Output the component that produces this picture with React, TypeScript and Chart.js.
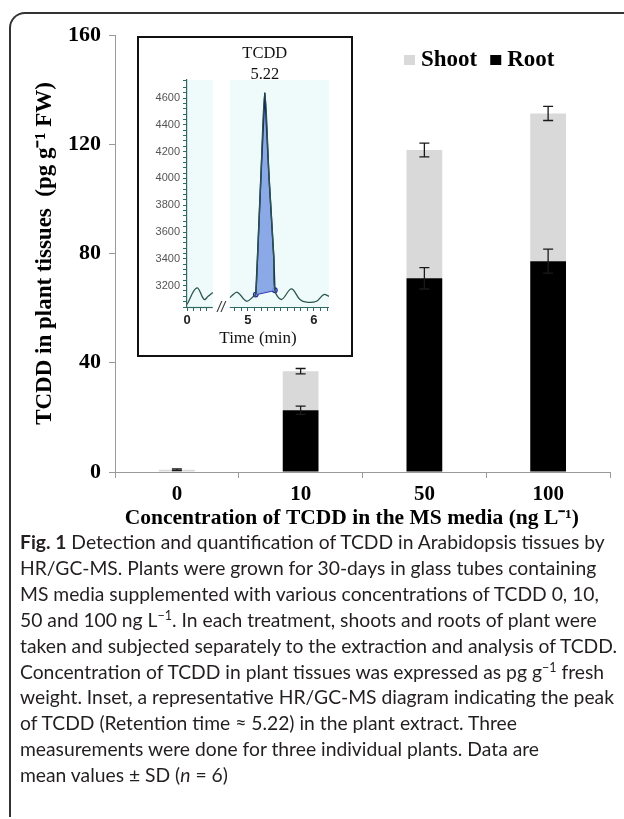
import React, { useEffect, useRef } from 'react';
import { Chart, registerables } from 'chart.js';

Chart.register(...registerables);

// ---------- Main bar chart data ----------
const categories = ['0', '10', '50', '100'];
const rootValues = [0, 22.6, 70.9, 77.2];
const shootValues = [0.8, 14.3, 47.0, 54.1];
const rootErrors = [0, 1.5, 3.9, 4.4];
const totalErrors = [0.3, 1.0, 2.5, 2.6];
const yTickStep = 40;
const yMax = 160;

// ---------- Inset chromatogram data (time in min, intensity) ----------
const insetTitle = 'TCDD';
const retentionTime = 5.22;
const insetLeftTimes = [0, 0.15, 0.26, 0.32, 0.39];
const insetLeftSignal = [3059, 3183, 3096, 3120, 3148];
const insetRightTimes = [4.73, 4.75, 4.84, 4.98, 5.09, 5.12, 5.147, 5.197, 5.258, 5.323, 5.394, 5.41, 5.51, 5.66, 5.79, 5.89, 6.04, 6.15, 6.23];
const insetRightSignal = [3110, 3120, 3150, 3083, 3120, 3133, 3409, 3997, 4640, 3997, 3409, 3165, 3096, 3175, 3096, 3076, 3083, 3133, 3120];
const peakStartIndex = 5;
const peakEndIndex = 11;
const peakApexIndex = 8;
const integrationTimes = [5.12, 5.41];
const integrationSignal = [3133, 3165];
const insetYMin = 3040;
const insetYMax = 4735;
const insetYStep = 40;
const insetLabelStep = 200;
const insetPanels: [number, number][] = [[0, 0.39], [4.727, 6.23]];
const insetTickTimes = [0, 0.1, 0.2, 0.3, 4.8, 4.9, 5.0, 5.1, 5.2, 5.3, 5.4, 5.5, 5.6, 5.7, 5.8, 5.9, 6.0, 6.1, 6.2];
const insetLabeledTimes = [0, 5, 6];
const timeBreakShift = 4.079;

const SERIF = '"Liberation Serif", "Times New Roman", serif';
const SANS = '"Liberation Sans", Arial, sans-serif';

function MainChart() {
  const ref = useRef<HTMLCanvasElement>(null);
  useEffect(() => {
    const canvas = ref.current;
    if (!canvas) return;

    const errorBars = {
      id: 'errorBars',
      afterDatasetsDraw(chart: any) {
        const ctx = chart.ctx;
        const y = chart.scales.y;
        const meta = chart.getDatasetMeta(0);
        ctx.save();
        ctx.strokeStyle = '#1a1a1a';
        ctx.lineWidth = 1.3;
        categories.forEach((_, i) => {
          const x = meta.data[i].x;
          const pairs: [number, number][] = [
            [rootValues[i], rootErrors[i]],
            [rootValues[i] + shootValues[i], totalErrors[i]],
          ];
          pairs.forEach(([v, e]) => {
            if (e <= 0) return;
            const yt = y.getPixelForValue(v + e);
            const yb = y.getPixelForValue(v - e);
            ctx.beginPath();
            ctx.moveTo(x, yt);
            ctx.lineTo(x, yb);
            ctx.moveTo(x - 5, yt);
            ctx.lineTo(x + 5, yt);
            ctx.moveTo(x - 5, yb);
            ctx.lineTo(x + 5, yb);
            ctx.stroke();
          });
        });
        ctx.restore();
      },
    };

    const insideLegend = {
      id: 'insideLegend',
      afterDraw(chart: any) {
        const ctx = chart.ctx;
        const items = [chart.data.datasets[1], chart.data.datasets[0]];
        ctx.save();
        ctx.font = `bold 23px ${SERIF}`;
        ctx.textBaseline = 'alphabetic';
        let x = 404;
        const base = 66;
        items.forEach((ds: any) => {
          ctx.fillStyle = ds.backgroundColor;
          ctx.fillRect(x, base - 11, 11, 10);
          x += 17;
          ctx.fillStyle = '#000';
          ctx.fillText(ds.label, x, base);
          x += ctx.measureText(ds.label).width + 13;
        });
        ctx.restore();
      },
    };

    const chart = new Chart(canvas, {
      type: 'bar',
      data: {
        labels: categories,
        datasets: [
          {
            label: 'Root',
            data: rootValues,
            backgroundColor: '#000000',
            stack: 's',
            categoryPercentage: 0.5,
            barPercentage: 0.578,
          },
          {
            label: 'Shoot',
            data: shootValues,
            backgroundColor: '#d9d9d9',
            stack: 's',
            categoryPercentage: 0.5,
            barPercentage: 0.578,
          },
        ],
      },
      options: {
        animation: false,
        responsive: false,
        layout: { padding: { left: 0, right: 14, top: 35, bottom: 0 } },
        plugins: {
          legend: { display: false },
          tooltip: { enabled: false },
          title: { display: false },
        },
        scales: {
          x: {
            stacked: true,
            grid: {
              display: true,
              drawOnChartArea: false,
              drawTicks: true,
              tickLength: 6,
              color: '#9a9a9a',
              offset: true,
            },
            border: { display: true, color: '#9a9a9a', width: 1 },
            ticks: {
              color: '#000',
              font: { family: SERIF, size: 21, weight: 'bold' },
              padding: 4,
            },
            title: {
              display: true,
              text: 'Concentration of TCDD in the MS media (ng L\u207B\u00B9)    ',
              color: '#000',
              font: { family: SERIF, size: 21.5, weight: 'bold' },
              padding: { top: 0, bottom: 4 },
            },
            afterFit: (s: any) => {
              s.height = 63;
            },
          },
          y: {
            stacked: true,
            min: 0,
            max: yMax,
            ticks: {
              stepSize: yTickStep,
              color: '#000',
              font: { family: SERIF, size: 22, weight: 'bold' },
              padding: 8,
            },
            grid: {
              display: true,
              drawOnChartArea: false,
              drawTicks: true,
              tickLength: 6,
              color: '#9a9a9a',
            },
            border: { display: true, color: '#9a9a9a', width: 1 },
            title: {
              display: true,
              text: 'TCDD in plant tissues  (pg g\u207B\u00B9 FW)',
              color: '#000',
              font: { family: SERIF, size: 23, weight: 'bold' },
              padding: { top: 31, bottom: 0 },
            },
            afterFit: (s: any) => {
              s.width = 115;
            },
          },
        },
      },
      plugins: [errorBars, insideLegend],
    } as any);
    return () => chart.destroy();
  }, []);
  return (
    <canvas
      ref={ref}
      width={624}
      height={535}
      style={{ position: 'absolute', left: 0, top: 0, width: 624, height: 535 }}
    />
  );
}

function InsetChart() {
  const ref = useRef<HTMLCanvasElement>(null);
  useEffect(() => {
    const canvas = ref.current;
    if (!canvas) return;
    const toDisplay = (t: number) => (t < 2 ? t : t - timeBreakShift);
    const pts = (ts: number[], vs: number[]) => ts.map((t, i) => ({ x: toDisplay(t), y: vs[i] }));

    const panelPlugin = {
      id: 'panels',
      beforeDraw(chart: any) {
        const { ctx, chartArea, scales } = chart;
        const x = scales.x;
        ctx.save();
        ctx.fillStyle = '#effbfb';
        insetPanels.forEach(([a, b]) => {
          const xa = x.getPixelForValue(toDisplay(a));
          const xb = x.getPixelForValue(toDisplay(b));
          ctx.fillRect(xa, chartArea.top, xb - xa, chartArea.bottom - chartArea.top);
        });
        ctx.restore();
      },
      afterDraw(chart: any) {
        const { ctx, chartArea, scales } = chart;
        const x = scales.x;
        ctx.save();
        ctx.strokeStyle = '#2f6b64';
        ctx.lineWidth = 1.2;
        insetPanels.forEach(([a, b]) => {
          const xa = x.getPixelForValue(toDisplay(a));
          const xb = x.getPixelForValue(toDisplay(b));
          ctx.beginPath();
          ctx.moveTo(xa, chartArea.bottom + 0.5);
          ctx.lineTo(xb, chartArea.bottom + 0.5);
          ctx.stroke();
        });
        const gx =
          (x.getPixelForValue(toDisplay(insetPanels[0][1])) + x.getPixelForValue(toDisplay(insetPanels[1][0]))) / 2;
        ctx.fillStyle = '#333';
        ctx.font = `italic 14px ${SANS}`;
        ctx.textAlign = 'center';
        ctx.textBaseline = 'middle';
        ctx.fillText('//', gx, chartArea.bottom + 1);

        // title over the peak
        const px = x.getPixelForValue(toDisplay(insetRightTimes[peakApexIndex]));
        ctx.fillStyle = '#111';
        ctx.font = `16.5px ${SERIF}`;
        ctx.fillText(insetTitle, px, 16);
        ctx.fillText(retentionTime.toFixed(2), px, 37);
        ctx.restore();
      },
    };

    const chart = new Chart(canvas, {
      type: 'line',
      data: {
        datasets: [
          {
            data: pts(insetLeftTimes, insetLeftSignal),
            borderColor: '#2b564c',
            borderWidth: 1.3,
            pointRadius: 0,
            tension: 0.4,
            fill: false,
          },
          {
            data: pts(insetRightTimes, insetRightSignal),
            borderColor: '#2b564c',
            borderWidth: 1.3,
            pointRadius: 0,
            tension: 0.35,
            fill: false,
          },
          {
            data: pts(
              insetRightTimes.slice(peakStartIndex, peakEndIndex + 1),
              insetRightSignal.slice(peakStartIndex, peakEndIndex + 1)
            ),
            borderColor: '#14215e',
            borderWidth: 1.5,
            pointRadius: 0,
            tension: 0,
            fill: { target: 3 },
            backgroundColor: 'rgba(128, 160, 228, 0.9)',
          },
          {
            data: pts(integrationTimes, integrationSignal),
            borderColor: '#2a2aa0',
            borderWidth: 1.6,
            pointRadius: 2.3,
            pointBackgroundColor: '#8aa0ee',
            pointBorderColor: '#2a2aa0',
            pointBorderWidth: 1.2,
            tension: 0,
            fill: false,
          },
        ],
      },
      options: {
        animation: false,
        responsive: false,
        layout: { padding: { left: 0, right: 22, top: 42, bottom: 0 } },
        plugins: {
          legend: { display: false },
          tooltip: { enabled: false },
          title: { display: false },
        },
        scales: {
          x: {
            type: 'linear',
            min: 0,
            max: toDisplay(insetPanels[1][1]),
            afterBuildTicks: (s: any) => {
              s.ticks = insetTickTimes.map((t) => ({ value: toDisplay(t) }));
            },
            grid: {
              display: true,
              drawOnChartArea: false,
              drawTicks: true,
              tickLength: 4,
              color: '#2f6b64',
            },
            border: { display: false },
            ticks: {
              autoSkip: false,
              maxRotation: 0,
              color: '#222',
              font: { family: SANS, size: 13, weight: 'bold' },
              padding: 2,
              callback: (val: any) => {
                const v = Number(val);
                const t = v < 0.5 ? v : v + timeBreakShift;
                const r = Math.round(t * 10) / 10;
                return insetLabeledTimes.includes(r) ? String(r) : '';
              },
            },
            title: {
              display: true,
              text: 'Time (min)',
              color: '#111',
              font: { family: SERIF, size: 17 },
              padding: { top: 0, bottom: 6 },
            },
            afterFit: (s: any) => {
              s.height = 48;
            },
          },
          y: {
            min: insetYMin,
            max: insetYMax,
            ticks: {
              stepSize: insetYStep,
              autoSkip: false,
              color: '#555',
              font: { family: SANS, size: 11 },
              padding: 3,
              callback: (val: any) => {
                const v = Math.round(Number(val));
                return v % insetLabelStep === 0 ? String(v) : '';
              },
            },
            grid: {
              display: true,
              drawOnChartArea: false,
              drawTicks: true,
              tickLength: 4,
              color: '#2f6b64',
            },
            border: { display: true, color: '#2f6b64', width: 1.2 },
            afterFit: (s: any) => {
              s.width = 48;
            },
          },
        },
      },
      plugins: [panelPlugin],
    } as any);
    return () => chart.destroy();
  }, []);
  return (
    <div
      style={{
        position: 'absolute',
        left: 137,
        top: 36,
        width: 216,
        height: 321,
        border: '2px solid #111',
        boxSizing: 'border-box',
        background: '#fff',
        zIndex: 2,
      }}
    >
      <canvas ref={ref} width={212} height={317} style={{ display: 'block', width: 212, height: 317 }} />
    </div>
  );
}

const supStyle: React.CSSProperties = { fontSize: '0.65em', lineHeight: 0 };

const captionLines: React.ReactNode[] = [
  <>
    <b>Fig. 1</b> Detection and quantification of TCDD in Arabidopsis tissues by
  </>,
  <>HR/GC-MS. Plants were grown for 30-days in glass tubes containing</>,
  <>MS media supplemented with various concentrations of TCDD 0, 10,</>,
  <>
    50 and 100 ng L<sup style={supStyle}>−1</sup>. In each treatment, shoots and roots of plant were
  </>,
  <>taken and subjected separately to the extraction and analysis of TCDD.</>,
  <>
    Concentration of TCDD in plant tissues was expressed as pg g<sup style={supStyle}>−1</sup> fresh
  </>,
  <>weight. Inset, a representative HR/GC-MS diagram indicating the peak</>,
  <>of TCDD (Retention time ≈ 5.22) in the plant extract. Three</>,
  <>measurements were done for three individual plants. Data are</>,
  <>
    mean values ± SD (<i>n</i> = 6)
  </>,
];

export default function App() {
  return (
    <div
      style={{
        position: 'absolute',
        left: 0,
        top: 0,
        width: 624,
        height: 819,
        overflow: 'hidden',
        background: '#fff',
      }}
    >
      <div
        style={{
          position: 'absolute',
          left: 9,
          top: 12,
          width: 700,
          height: 805,
          borderLeft: '2px solid #333',
          borderTop: '2px solid #333',
          borderTopLeftRadius: 16,
          boxSizing: 'border-box',
        }}
      />
      <MainChart />
      <InsetChart />
      <div
        style={{
          position: 'absolute',
          left: 20,
          top: 529,
          fontFamily: 'Lato, "Open Sans", sans-serif',
          fontSize: 19.3,
          lineHeight: '25.9px',
          color: '#231f20',
          whiteSpace: 'nowrap',
        }}
      >
        {captionLines.map((l, i) => (
          <div key={i}>{l}</div>
        ))}
      </div>
    </div>
  );
}
